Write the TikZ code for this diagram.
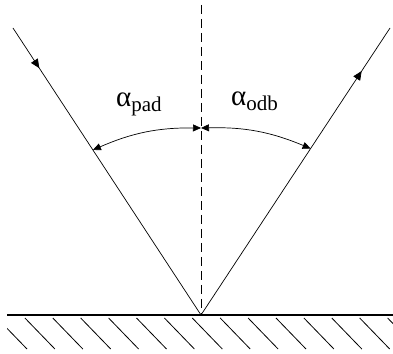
\documentclass[tikz,border=0pt]{standalone}
\usepackage{fontspec}
\setmainfont{Liberation Serif}
\usepackage{tikz}
\usetikzlibrary{arrows.meta,calc,decorations.markings}
\newcommand{\angsub}[1]{\raisebox{-5pt}{\fontsize{21}{21}\selectfont #1}}
\tikzset{
  ray/.style={draw=black,line width=0.7pt},
  raytip/.style={postaction={decorate},decoration={markings,
      mark=at position #1 with {\arrow{Triangle[length=9pt,width=8pt]}}}},
  normal/.style={draw=black,line width=0.8pt,dash pattern=on 9pt off 5pt},
  ground/.style={draw=black,line width=2pt},
  hatch/.style={draw=black,line width=0.8pt},
  ang/.style={{Triangle[length=8pt,width=7pt]}-{Triangle[length=8pt,width=7pt]},line width=0.7pt},
  lbl/.style={font=\fontsize{29}{29}\selectfont,inner sep=0pt,anchor=base west},
}

\begin{document}
\begin{tikzpicture}[x=1pt,y=1pt]
  \useasboundingbox (0,0) rectangle (393,353);
  % points
  \coordinate (O) at (201,38);
  \coordinate (I) at (13,325);
  \coordinate (R) at (390,325);
  \coordinate (D) at (201,348);
  \coordinate (T) at (201,225);
  \coordinate (GL) at (7,38);
  \coordinate (GR) at (393,38);
  \coordinate (A) at ($(I)!0.425!(O)$);
  \coordinate (B) at ($(O)!0.58!(R)$);
  % surface
  \begin{scope}
    \clip (7,0) rectangle (393,38);
    \foreach \k in {0,...,14}
      \draw[hatch] ({-3+27.9*\k},35) -- ++(30,-31);
  \end{scope}
  \draw[ground] (GL) -- (GR);
  % normal and rays
  \draw[normal] (D) -- (O);
  \draw[ray,raytip=0.14] (I) -- (O);
  \draw[ray,raytip=0.85] (O) -- (R);
  % angles
  \draw[ang] (A) to[bend left=12] (T);
  \draw[ang] (T) to[bend left=12] (B);
  \node[lbl] (apad) at (116,246.5) {α\angsub{pad}};
  \node[lbl] (aodb) at (231,247.5) {α\angsub{odb}};
\end{tikzpicture}
\end{document}
